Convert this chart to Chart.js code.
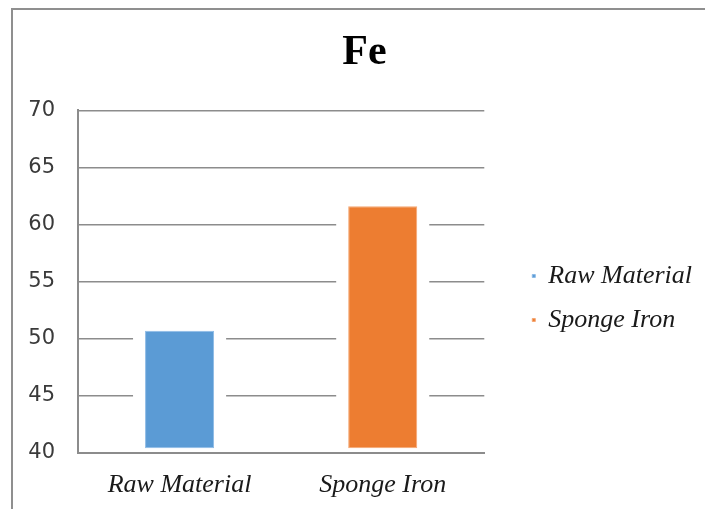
<!DOCTYPE html>
<html>
<head>
<meta charset="utf-8">
<script src="https://cdn.jsdelivr.net/npm/chart.js@4.4.1/dist/chart.umd.min.js"></script>
<style>
  html, body { margin: 0; padding: 0; background: #ffffff; }
  #wrap { position: relative; width: 705px; height: 509px; overflow: hidden; }
  #frame {
    position: absolute; left: 11px; top: 8px; right: -4px; bottom: -4px;
    border-top: 2px solid #8f8f8f; border-left: 2px solid #8f8f8f;
    pointer-events: none;
  }
  canvas { position: absolute; left: 0; top: 0; }
</style>
</head>
<body>
<div id="wrap">
  <canvas id="chart" width="705" height="509"></canvas>
  <div id="frame"></div>
</div>
<script>
// Fe content (%) of the raw material and of the sponge iron
const categories = ['Raw Material', 'Sponge Iron'];
const seriesNames = ['Raw Material', 'Sponge Iron'];
const rawMaterialValues = [50.7, null];
const spongeIronValues = [null, 61.6];
const yTicks = [40, 45, 50, 55, 60, 65, 70];

const serif = "'Liberation Serif', 'Times New Roman', serif";
const sans = "'DejaVu Sans', 'Liberation Sans', sans-serif";
const gridColor = '#8c8c8c';

// Clears the grid lines a little on each side of every bar
const barGap = {
  id: 'barGap',
  beforeDatasetsDraw(chart) {
    const ctx = chart.ctx;
    ctx.save();
    ctx.fillStyle = '#ffffff';
    chart.data.datasets.forEach((ds, i) => {
      chart.getDatasetMeta(i).data.forEach((bar, j) => {
        if (ds.data[j] == null) return;
        const p = bar.getProps(['x', 'y', 'base', 'width'], true);
        ctx.fillRect(p.x - p.width / 2 - 12, p.y - 1, p.width + 24, p.base - p.y + 1);
      });
    });
    ctx.restore();
  }
};

new Chart(document.getElementById('chart'), {
  type: 'bar',
  data: {
    labels: categories,
    datasets: [
      {
        label: seriesNames[0],
        data: rawMaterialValues,
        backgroundColor: '#5b9bd5',
        borderColor: '#8dbbe6',
        borderWidth: 1,
        borderSkipped: false,
        base: 40.4
      },
      {
        label: seriesNames[1],
        data: spongeIronValues,
        backgroundColor: '#ed7d31',
        borderColor: '#f4a774',
        borderWidth: 1,
        borderSkipped: false,
        base: 40.4
      }
    ]
  },
  options: {
    responsive: false,
    animation: false,
    layout: { padding: { left: 27, right: 3, top: 28, bottom: -9 } },
    datasets: {
      bar: { grouped: false, categoryPercentage: 1, barPercentage: 0.34 }
    },
    plugins: {
      title: {
        display: true,
        text: 'Fe',
        color: '#000000',
        font: { family: serif, size: 42, weight: 'bold', lineHeight: 1.2 },
        padding: { top: 0, bottom: 32 }
      },
      legend: {
        position: 'right',
        align: 'center',
        maxWidth: 240,
        title: { display: true, text: '', font: { size: 10 }, padding: { top: 0, bottom: 38 } },
        labels: {
          boxWidth: 3,
          boxHeight: 3,
          padding: 18,
          color: '#1a1a1a',
          font: { family: serif, size: 26, style: 'italic' }
        }
      },
      tooltip: { enabled: false }
    },
    scales: {
      x: {
        grid: { display: false, drawTicks: false },
        border: { display: true, color: gridColor, width: 2 },
        ticks: {
          padding: 17,
          color: '#1a1a1a',
          font: { family: serif, size: 26, style: 'italic' }
        }
      },
      y: {
        min: yTicks[0],
        max: yTicks[yTicks.length - 1],
        afterBuildTicks(scale) {
          scale.ticks = yTicks.map(v => ({ value: v }));
        },
        afterFit(scale) { scale.width = 51; },
        grid: { color: gridColor, lineWidth: 1.5, drawTicks: false },
        border: { display: true, color: gridColor, width: 2 },
        ticks: {
          padding: 23,
          color: '#3a3a3a',
          font: { family: sans, size: 21 }
        }
      },
      // empty axis that keeps the legend clear of the plot
      gap: {
        position: 'right',
        display: true,
        grid: { display: false, drawTicks: false },
        border: { display: false },
        ticks: { display: false },
        afterFit(scale) { scale.width = 30; }
      }
    }
  },
  plugins: [barGap]
});
</script>
</body>
</html>
